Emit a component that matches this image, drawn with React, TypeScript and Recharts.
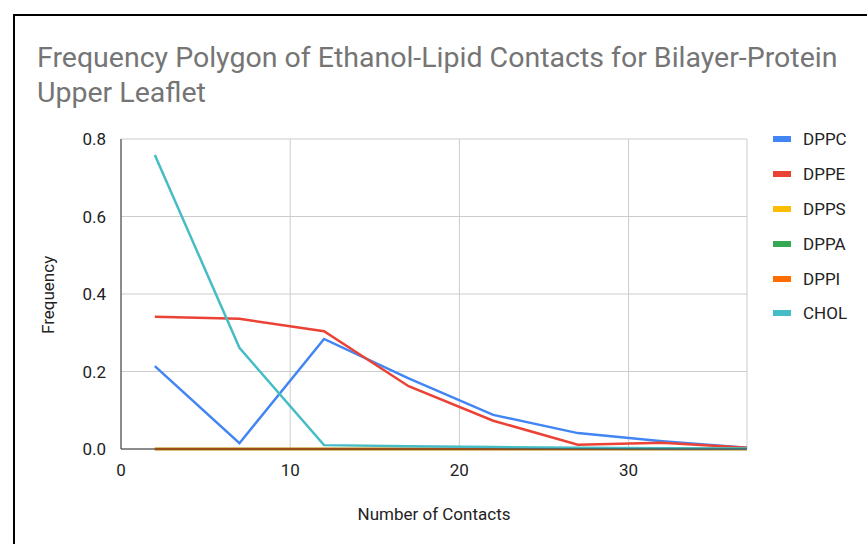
import React from 'react';
import {
  LineChart,
  Line,
  XAxis,
  YAxis,
  CartesianGrid,
} from 'recharts';

// Bin midpoints (number of contacts)
const contacts = [2, 7, 12, 17, 22, 27, 32, 37];

// Frequency per lipid species
const dppc = [0.214, 0.015, 0.284, 0.182, 0.088, 0.041, 0.02, 0.003];
const dppe = [0.341, 0.336, 0.304, 0.162, 0.073, 0.011, 0.016, 0.003];
const dpps = [0, 0, 0, 0, 0, 0, 0, 0];
const dppa = [0, 0, 0, 0, 0, 0, 0, 0];
const dppi = [0, 0, 0, 0, 0, 0, 0, 0];
const chol = [0.759, 0.261, 0.01, 0.007, 0.005, 0.003, 0.002, 0.001];

const xTicks = [0, 10, 20, 30];
const yTicks = [0, 0.2, 0.4, 0.6, 0.8];

const series = [
  { key: 'DPPC', values: dppc, color: '#4285f4' },
  { key: 'DPPE', values: dppe, color: '#ea4335' },
  { key: 'DPPS', values: dpps, color: '#fbbc04' },
  { key: 'DPPA', values: dppa, color: '#34a853' },
  { key: 'DPPI', values: dppi, color: '#ff6d01' },
  { key: 'CHOL', values: chol, color: '#46bdc6' },
];

const data = contacts.map((x, i) => {
  const row: Record<string, number> = { x };
  series.forEach(s => {
    row[s.key] = s.values[i];
  });
  return row;
});

const font = 'Roboto, Arial, sans-serif';
const textColor = '#222';

export default function App() {
  return (
    <div style={{ position: 'absolute', left: 0, top: 0, width: 867, height: 544, background: '#fff', overflow: 'hidden' }}>
      <div
        style={{
          position: 'absolute',
          left: 13,
          top: 14,
          width: 860,
          height: 540,
          borderLeft: '2px solid #000',
          borderTop: '2px solid #000',
        }}
      />
      <div
        style={{
          position: 'absolute',
          left: 37,
          top: 40,
          fontFamily: font,
          fontSize: 28.5,
          lineHeight: '35px',
          color: '#757575',
          whiteSpace: 'nowrap',
        }}
      >
        Frequency Polygon of Ethanol-Lipid Contacts for Bilayer-Protein
        <br />
        Upper Leaflet
      </div>
      <LineChart
        width={867}
        height={544}
        data={data}
        margin={{ top: 139, right: 120, bottom: 15, left: 40 }}
        style={{ position: 'absolute', left: 0, top: 0 }}
      >
        <CartesianGrid stroke="#cccccc" />
        <XAxis
          type="number"
          dataKey="x"
          domain={[0, 37]}
          ticks={xTicks}
          height={80}
          tickLine={false}
          axisLine={{ stroke: '#333' }}
          tickMargin={9}
          tick={{ fill: textColor, fontSize: 17, fontFamily: font }}
          label={{ value: 'Number of Contacts', position: 'insideBottom', offset: 9, fill: textColor, fontSize: 17, fontFamily: font }}
        />
        <YAxis
          type="number"
          domain={[0, 0.8]}
          ticks={yTicks}
          width={81}
          tickLine={false}
          axisLine={{ stroke: '#333' }}
          tickMargin={9}
          tickFormatter={(v: number) => v.toFixed(1)}
          tick={{ fill: textColor, fontSize: 17, fontFamily: font }}
          label={{ value: 'Frequency', angle: -90, position: 'insideLeft', offset: 8, dy: 40, fill: textColor, fontSize: 17, fontFamily: font }}
        />
        {series.map(s => (
          <Line
            key={s.key}
            type="linear"
            dataKey={s.key}
            stroke={s.color}
            strokeWidth={2.5}
            dot={false}
            activeDot={false}
            isAnimationActive={false}
          />
        ))}
      </LineChart>
      <div style={{ position: 'absolute', left: 773, top: 122, fontFamily: font, fontSize: 17, color: textColor }}>
        {series.map(s => (
          <div key={s.key} style={{ display: 'flex', alignItems: 'center', height: 34.8 }}>
            <span style={{ display: 'inline-block', width: 18, height: 6, background: s.color, marginRight: 12 }} />
            <span>{s.key}</span>
          </div>
        ))}
      </div>
    </div>
  );
}
